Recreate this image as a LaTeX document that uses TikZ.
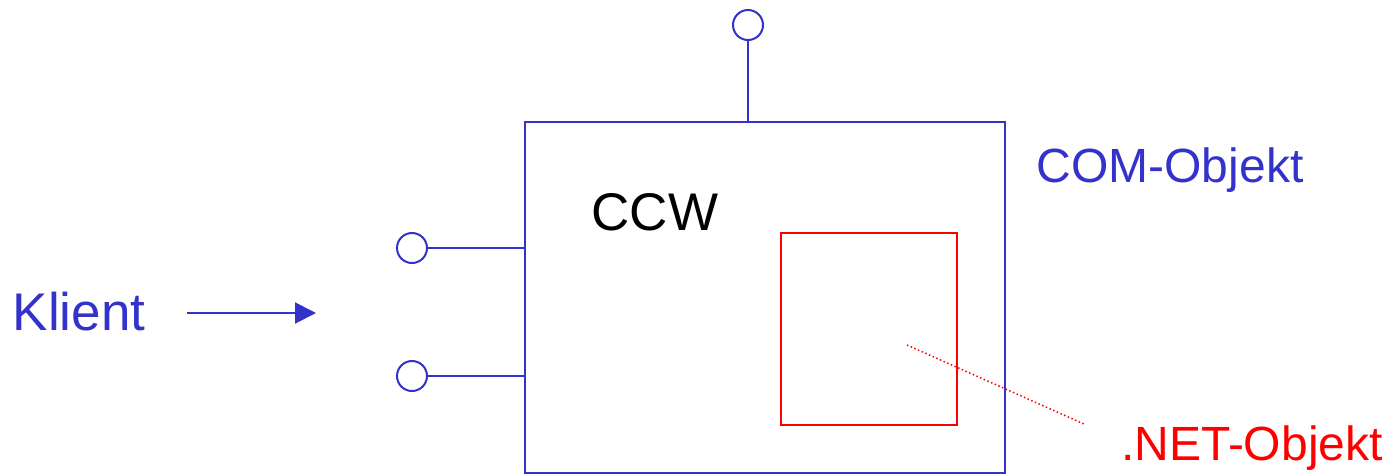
\documentclass[tikz,border=0pt]{standalone}
\usepackage{fontspec}
\setmainfont{Liberation Sans}
\usetikzlibrary{arrows.meta}
\definecolor{cblue}{RGB}{51,51,204}
\definecolor{cred}{RGB}{255,0,0}
\tikzset{
  bline/.style={draw=cblue, line width=2pt},
  port/.style={circle, draw=cblue, line width=2pt, minimum size=30pt, inner sep=0pt},
  lbl/.style={inner sep=0pt, anchor=center},
}
\begin{document}
\begin{tikzpicture}[x=1pt,y=-1pt]
\useasboundingbox (0,0) rectangle (1393,475);
% COM object box
\node[bline, minimum width=480pt, minimum height=351pt, inner sep=0pt, anchor=north west] (com) at (524,121) {};
% .NET object box
\node[draw=cred, line width=2pt, minimum width=176pt, minimum height=192pt, inner sep=0pt, anchor=north west] (net) at (780,232) {};
% ports
\node[port] (ptop) at (748,25) {};
\node[port] (pl1) at (412,248) {};
\node[port] (pl2) at (412,376) {};
\coordinate (ctop) at (748,121);
\coordinate (cl1) at (524,248);
\coordinate (cl2) at (524,376);
\draw[bline] (ptop.south) -- (ctop);
\draw[bline] (pl1.east) -- (cl1);
\draw[bline] (pl2.east) -- (cl2);
% labels
\node[lbl, text=cblue, font=\fontsize{53}{60}\selectfont] (klient) at (79,312) {Klient};
\node[lbl, text=black, font=\fontsize{53}{60}\selectfont] (ccw) at (655,212) {CCW};
\node[lbl, text=cblue, font=\fontsize{48}{56}\selectfont] (comlbl) at (1170,170) {COM-Objekt};
\node[lbl, text=cred, font=\fontsize{48}{56}\selectfont] (netlbl) at (1252,448) {.NET-Objekt};
% client arrow
\coordinate (a1) at (187,313);
\coordinate (a2) at (316,313);
\draw[bline, -{Triangle[length=21pt, width=21pt]}] (a1) -- (a2);
% dotted pointer
\coordinate (d1) at (907,345);
\coordinate (d2) at (1084,424);
\draw[draw=cred, line width=1.5pt, dash pattern=on 1.5pt off 2.5pt] (d1) -- (d2);
\end{tikzpicture}
\end{document}
